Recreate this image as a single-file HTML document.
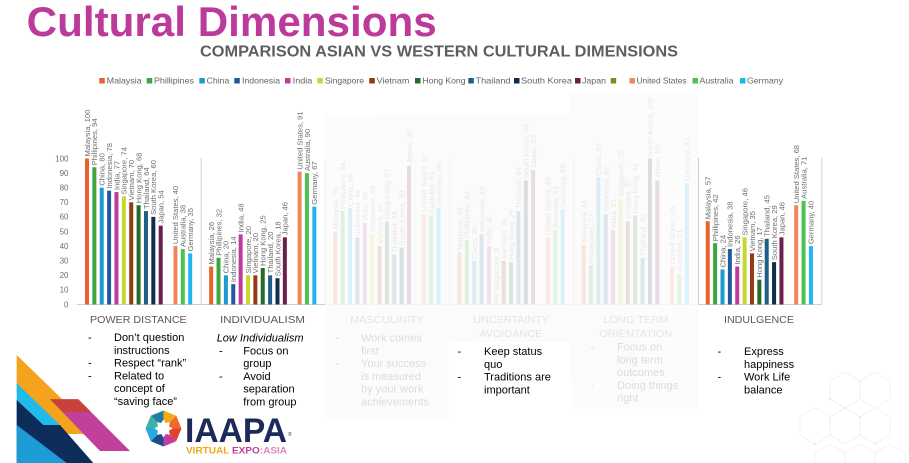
<!DOCTYPE html>
<html>
<head>
<meta charset="utf-8">
<style>
html,body{margin:0;padding:0;background:#fff;}
svg{display:block;}
.l{font-family:"Liberation Sans",sans-serif;font-size:7.6px;fill:#6e6e6e;}
.t{font-family:"Liberation Sans",sans-serif;font-size:8px;fill:#6e6e6e;}
.lg{font-family:"Liberation Sans",sans-serif;font-size:8.5px;fill:#626262;}
.cat{font-family:"Liberation Sans",sans-serif;font-size:10.5px;fill:#595959;}
.b{font-family:"Liberation Sans",sans-serif;font-size:11px;fill:#000;}
.c0{fill:#E8622C}.c1{fill:#3DA640}.c2{fill:#1E9AD0}.c3{fill:#1F5C99}.c4{fill:#C03A9E}
.c5{fill:#C5D82E}.c6{fill:#953A12}.c7{fill:#276B2A}.c8{fill:#1E5F87}.c9{fill:#0F2D4D}
.c10{fill:#6A1F4F}.c11{fill:#7E8C1F}.c12{fill:#F0875C}.c13{fill:#4DC252}.c14{fill:#1DB6F2}
</style>
</head>
<body>
<svg width="909" height="463" viewBox="0 0 909 463" xmlns="http://www.w3.org/2000/svg">
<rect width="909" height="463" fill="#fff"/>

<!-- Title -->
<text x="26.7" y="36" font-family="Liberation Sans, sans-serif" font-size="42" font-weight="bold" fill="#BC3A9A" textLength="410" lengthAdjust="spacingAndGlyphs">Cultural Dimensions</text>
<text x="200" y="56.7" font-family="Liberation Sans, sans-serif" font-size="15.5" font-weight="bold" fill="#5e5e5e" textLength="478" lengthAdjust="spacingAndGlyphs">COMPARISON ASIAN VS WESTERN CULTURAL DIMENSIONS</text>

<!-- Legend -->
<g>
<rect x="99.3" y="78" width="5.5" height="5.5" class="c0"/><text class="lg" x="106.7" y="83.6" textLength="35" lengthAdjust="spacingAndGlyphs">Malaysia</text>
<rect x="146.7" y="78" width="5.5" height="5.5" class="c1"/><text class="lg" x="154" y="83.6" textLength="40" lengthAdjust="spacingAndGlyphs">Phillipines</text>
<rect x="199.3" y="78" width="5.5" height="5.5" class="c2"/><text class="lg" x="206.7" y="83.6" textLength="22.6" lengthAdjust="spacingAndGlyphs">China</text>
<rect x="234.3" y="78" width="5.5" height="5.5" class="c3"/><text class="lg" x="242" y="83.6" textLength="38" lengthAdjust="spacingAndGlyphs">Indonesia</text>
<rect x="285" y="78" width="5.5" height="5.5" class="c4"/><text class="lg" x="292.7" y="83.6" textLength="19.6" lengthAdjust="spacingAndGlyphs">India</text>
<rect x="317.3" y="78" width="5.5" height="5.5" class="c5"/><text class="lg" x="325" y="83.6" textLength="39" lengthAdjust="spacingAndGlyphs">Singapore</text>
<rect x="369.3" y="78" width="5.5" height="5.5" class="c6"/><text class="lg" x="376.7" y="83.6" textLength="32.6" lengthAdjust="spacingAndGlyphs">Vietnam</text>
<rect x="415" y="78" width="5.5" height="5.5" class="c7"/><text class="lg" x="422.5" y="83.6" textLength="43" lengthAdjust="spacingAndGlyphs">Hong Kong</text>
<rect x="468.3" y="78" width="5.5" height="5.5" class="c8"/><text class="lg" x="475.5" y="83.6" textLength="35" lengthAdjust="spacingAndGlyphs">Thailand</text>
<rect x="514" y="78" width="5.5" height="5.5" class="c9"/><text class="lg" x="521" y="83.6" textLength="51" lengthAdjust="spacingAndGlyphs">South Korea</text>
<rect x="575" y="78" width="5.5" height="5.5" class="c10"/><text class="lg" x="582" y="83.6" textLength="24" lengthAdjust="spacingAndGlyphs">Japan</text>
<rect x="610.7" y="78" width="5.5" height="5.5" class="c11"/>
<rect x="629.5" y="78" width="5.5" height="5.5" class="c12"/><text class="lg" x="636.5" y="83.6" textLength="50" lengthAdjust="spacingAndGlyphs">United States</text>
<rect x="692.5" y="78" width="5.5" height="5.5" class="c13"/><text class="lg" x="699.5" y="83.6" textLength="34" lengthAdjust="spacingAndGlyphs">Australia</text>
<rect x="740" y="78" width="5.5" height="5.5" class="c14"/><text class="lg" x="747" y="83.6" textLength="36" lengthAdjust="spacingAndGlyphs">Germany</text>
</g>

<!-- Y axis labels -->
<g class="t" text-anchor="end">
<text x="68.5" y="307.3">0</text>
<text x="68.5" y="292.7">10</text>
<text x="68.5" y="278.1">20</text>
<text x="68.5" y="263.5">30</text>
<text x="68.5" y="248.9">40</text>
<text x="68.5" y="234.3">50</text>
<text x="68.5" y="219.7">60</text>
<text x="68.5" y="205.1">70</text>
<text x="68.5" y="190.5">80</text>
<text x="68.5" y="175.9">90</text>
<text x="68.5" y="161.3">100</text>
</g>

<!-- Axis lines -->
<g stroke="#cfcfcf" stroke-width="1">
<line x1="77" y1="304.5" x2="822" y2="304.5"/>
<line x1="201.2" y1="158" x2="201.2" y2="304.5"/>
<line x1="325.3" y1="158" x2="325.3" y2="304.5"/>
<line x1="449.4" y1="158" x2="449.4" y2="304.5"/>
<line x1="573.6" y1="158" x2="573.6" y2="304.5"/>
<line x1="698.5" y1="158" x2="698.5" y2="304.5"/>
<line x1="821.9" y1="158" x2="821.9" y2="304.5"/>
</g>

<!-- POWER DISTANCE -->
<g transform="translate(87,0)">
<g transform="translate(0,304.5) scale(1,-1.46)">
<rect x="-2" width="4" height="100" class="c0"/>
<rect x="5.37" width="4" height="94" class="c1"/>
<rect x="12.74" width="4" height="80" class="c2"/>
<rect x="20.11" width="4" height="78" class="c3"/>
<rect x="27.48" width="4" height="77" class="c4"/>
<rect x="34.85" width="4" height="74" class="c5"/>
<rect x="42.22" width="4" height="70" class="c6"/>
<rect x="49.59" width="4" height="68" class="c7"/>
<rect x="56.96" width="4" height="64" class="c8"/>
<rect x="64.33" width="4" height="60" class="c9"/>
<rect x="71.7" width="4" height="54" class="c10"/>
<rect x="86.44" width="4" height="40" class="c12"/>
<rect x="93.81" width="4" height="38" class="c13"/>
<rect x="101.18" width="4" height="35" class="c14"/>
</g>
<text class="l" transform="translate(2.8,302.5) rotate(-90)" x="146">Malaysia, 100</text>
<text class="l" transform="translate(10.17,302.5) rotate(-90)" x="137.24">Phillipines, 94</text>
<text class="l" transform="translate(17.54,302.5) rotate(-90)" x="116.8">China, 80</text>
<text class="l" transform="translate(24.91,302.5) rotate(-90)" x="113.88">Indonesia, 78</text>
<text class="l" transform="translate(32.28,302.5) rotate(-90)" x="112.42">India, 77</text>
<text class="l" transform="translate(39.65,302.5) rotate(-90)" x="108.04">Singapore, 74</text>
<text class="l" transform="translate(47.02,302.5) rotate(-90)" x="102.2">Vietnam, 70</text>
<text class="l" transform="translate(54.39,302.5) rotate(-90)" x="99.28">Hong Kong, 68</text>
<text class="l" transform="translate(61.76,302.5) rotate(-90)" x="93.44">Thailand, 64</text>
<text class="l" transform="translate(69.13,302.5) rotate(-90)" x="87.6">South Korea, 60</text>
<text class="l" transform="translate(76.5,302.5) rotate(-90)" x="78.84">Japan, 54</text>
<text class="l" transform="translate(91.24,302.5) rotate(-90)" x="58.4">United States, 40</text>
<text class="l" transform="translate(98.61,302.5) rotate(-90)" x="55.48">Australia, 38</text>
<text class="l" transform="translate(105.98,302.5) rotate(-90)" x="51.1">Germany, 35</text>
</g>

<!-- INDIVIDUALISM -->
<g transform="translate(211.15,0)">
<g transform="translate(0,304.5) scale(1,-1.46)">
<rect x="-2" width="4" height="26" class="c0"/>
<rect x="5.37" width="4" height="32" class="c1"/>
<rect x="12.74" width="4" height="20" class="c2"/>
<rect x="20.11" width="4" height="14" class="c3"/>
<rect x="27.48" width="4" height="48" class="c4"/>
<rect x="34.85" width="4" height="20" class="c5"/>
<rect x="42.22" width="4" height="20" class="c6"/>
<rect x="49.59" width="4" height="25" class="c7"/>
<rect x="56.96" width="4" height="20" class="c8"/>
<rect x="64.33" width="4" height="18" class="c9"/>
<rect x="71.7" width="4" height="46" class="c10"/>
<rect x="86.44" width="4" height="91" class="c12"/>
<rect x="93.81" width="4" height="90" class="c13"/>
<rect x="101.18" width="4" height="67" class="c14"/>
</g>
<text class="l" transform="translate(2.8,302.5) rotate(-90)" x="37.96">Malaysia, 26</text>
<text class="l" transform="translate(10.17,302.5) rotate(-90)" x="46.72">Phillipines, 32</text>
<text class="l" transform="translate(17.54,302.5) rotate(-90)" x="29.2">China, 20</text>
<text class="l" transform="translate(24.91,302.5) rotate(-90)" x="20.44">Indonesia, 14</text>
<text class="l" transform="translate(32.28,302.5) rotate(-90)" x="70.08">India, 48</text>
<text class="l" transform="translate(39.65,302.5) rotate(-90)" x="29.2">Singapore, 20</text>
<text class="l" transform="translate(47.02,302.5) rotate(-90)" x="29.2">Vietnam, 20</text>
<text class="l" transform="translate(54.39,302.5) rotate(-90)" x="36.5">Hong Kong, 25</text>
<text class="l" transform="translate(61.76,302.5) rotate(-90)" x="29.2">Thailand, 20</text>
<text class="l" transform="translate(69.13,302.5) rotate(-90)" x="26.28">South Korea, 18</text>
<text class="l" transform="translate(76.5,302.5) rotate(-90)" x="67.16">Japan, 46</text>
<text class="l" transform="translate(91.24,302.5) rotate(-90)" x="132.86">United States, 91</text>
<text class="l" transform="translate(98.61,302.5) rotate(-90)" x="131.4">Australia, 90</text>
<text class="l" transform="translate(105.98,302.5) rotate(-90)" x="97.82">Germany, 67</text>
</g>

<!-- MASCULINITY -->
<g transform="translate(335.3,0)">
<g transform="translate(0,304.5) scale(1,-1.46)">
<rect x="-2" width="4" height="50" class="c0"/>
<rect x="5.37" width="4" height="64" class="c1"/>
<rect x="12.74" width="4" height="66" class="c2"/>
<rect x="20.11" width="4" height="46" class="c3"/>
<rect x="27.48" width="4" height="56" class="c4"/>
<rect x="34.85" width="4" height="48" class="c5"/>
<rect x="42.22" width="4" height="40" class="c6"/>
<rect x="49.59" width="4" height="57" class="c7"/>
<rect x="56.96" width="4" height="34" class="c8"/>
<rect x="64.33" width="4" height="39" class="c9"/>
<rect x="71.7" width="4" height="95" class="c10"/>
<rect x="86.44" width="4" height="62" class="c12"/>
<rect x="93.81" width="4" height="61" class="c13"/>
<rect x="101.18" width="4" height="66" class="c14"/>
</g>
<text class="l" transform="translate(2.8,302.5) rotate(-90)" x="73">Malaysia, 50</text>
<text class="l" transform="translate(10.17,302.5) rotate(-90)" x="93.44">Phillipines, 64</text>
<text class="l" transform="translate(17.54,302.5) rotate(-90)" x="96.36">China, 66</text>
<text class="l" transform="translate(24.91,302.5) rotate(-90)" x="67.16">Indonesia, 46</text>
<text class="l" transform="translate(32.28,302.5) rotate(-90)" x="81.76">India, 56</text>
<text class="l" transform="translate(39.65,302.5) rotate(-90)" x="70.08">Singapore, 48</text>
<text class="l" transform="translate(47.02,302.5) rotate(-90)" x="58.4">Vietnam, 40</text>
<text class="l" transform="translate(54.39,302.5) rotate(-90)" x="83.22">Hong Kong, 57</text>
<text class="l" transform="translate(61.76,302.5) rotate(-90)" x="49.64">Thailand, 34</text>
<text class="l" transform="translate(69.13,302.5) rotate(-90)" x="56.94">South Korea, 39</text>
<text class="l" transform="translate(76.5,302.5) rotate(-90)" x="138.7">Japan, 95</text>
<text class="l" transform="translate(91.24,302.5) rotate(-90)" x="90.52">United States, 62</text>
<text class="l" transform="translate(98.61,302.5) rotate(-90)" x="89.06">Australia, 61</text>
<text class="l" transform="translate(105.98,302.5) rotate(-90)" x="96.36">Germany, 66</text>
</g>

<!-- UNCERTAINTY AVOIDANCE -->
<g transform="translate(459.45,0)">
<g transform="translate(0,304.5) scale(1,-1.46)">
<rect x="-2" width="4" height="36" class="c0"/>
<rect x="5.37" width="4" height="44" class="c1"/>
<rect x="12.74" width="4" height="30" class="c2"/>
<rect x="20.11" width="4" height="48" class="c3"/>
<rect x="27.48" width="4" height="40" class="c4"/>
<rect x="34.85" width="4" height="8" class="c5"/>
<rect x="42.22" width="4" height="30" class="c6"/>
<rect x="49.59" width="4" height="29" class="c7"/>
<rect x="56.96" width="4" height="64" class="c8"/>
<rect x="64.33" width="4" height="85" class="c9"/>
<rect x="71.7" width="4" height="92" class="c10"/>
<rect x="86.44" width="4" height="46" class="c12"/>
<rect x="93.81" width="4" height="51" class="c13"/>
<rect x="101.18" width="4" height="65" class="c14"/>
</g>
<text class="l" transform="translate(2.8,302.5) rotate(-90)" x="52.56">Malaysia, 36</text>
<text class="l" transform="translate(10.17,302.5) rotate(-90)" x="64.24">Phillipines, 44</text>
<text class="l" transform="translate(17.54,302.5) rotate(-90)" x="43.8">China, 30</text>
<text class="l" transform="translate(24.91,302.5) rotate(-90)" x="70.08">Indonesia, 48</text>
<text class="l" transform="translate(32.28,302.5) rotate(-90)" x="58.4">India, 40</text>
<text class="l" transform="translate(39.65,302.5) rotate(-90)" x="11.68">Singapore, 8</text>
<text class="l" transform="translate(47.02,302.5) rotate(-90)" x="43.8">Vietnam, 30</text>
<text class="l" transform="translate(54.39,302.5) rotate(-90)" x="42.34">Hong Kong, 29</text>
<text class="l" transform="translate(61.76,302.5) rotate(-90)" x="93.44">Thailand, 64</text>
<text class="l" transform="translate(69.13,302.5) rotate(-90)" x="124.1">South Korea, 85</text>
<text class="l" transform="translate(76.5,302.5) rotate(-90)" x="134.32">Japan, 92</text>
<text class="l" transform="translate(91.24,302.5) rotate(-90)" x="67.16">United States, 46</text>
<text class="l" transform="translate(98.61,302.5) rotate(-90)" x="74.46">Australia, 51</text>
<text class="l" transform="translate(105.98,302.5) rotate(-90)" x="94.9">Germany, 65</text>
</g>

<!-- LONG TERM ORIENTATION -->
<g transform="translate(583.6,0)">
<g transform="translate(0,304.5) scale(1,-1.46)">
<rect x="-2" width="4" height="41" class="c0"/>
<rect x="5.37" width="4" height="27" class="c1"/>
<rect x="12.74" width="4" height="87" class="c2"/>
<rect x="20.11" width="4" height="62" class="c3"/>
<rect x="27.48" width="4" height="51" class="c4"/>
<rect x="34.85" width="4" height="72" class="c5"/>
<rect x="42.22" width="4" height="57" class="c6"/>
<rect x="49.59" width="4" height="61" class="c7"/>
<rect x="56.96" width="4" height="32" class="c8"/>
<rect x="64.33" width="4" height="100" class="c9"/>
<rect x="71.7" width="4" height="85" class="c10"/>
<rect x="86.44" width="4" height="26" class="c12"/>
<rect x="93.81" width="4" height="21" class="c13"/>
<rect x="101.18" width="4" height="83" class="c14"/>
</g>
<text class="l" transform="translate(2.8,302.5) rotate(-90)" x="59.86">Malaysia, 41</text>
<text class="l" transform="translate(10.17,302.5) rotate(-90)" x="39.42">Philippines, 27</text>
<text class="l" transform="translate(17.54,302.5) rotate(-90)" x="127.02">China, 87</text>
<text class="l" transform="translate(24.91,302.5) rotate(-90)" x="90.52">Indonesia, 62</text>
<text class="l" transform="translate(32.28,302.5) rotate(-90)" x="74.46">India, 51</text>
<text class="l" transform="translate(39.65,302.5) rotate(-90)" x="105.12">Singapore, 72</text>
<text class="l" transform="translate(47.02,302.5) rotate(-90)" x="83.22">Vietnam, 57</text>
<text class="l" transform="translate(54.39,302.5) rotate(-90)" x="89.06">Hong Kong, 61</text>
<text class="l" transform="translate(61.76,302.5) rotate(-90)" x="46.72">Thailand, 32</text>
<text class="l" transform="translate(69.13,302.5) rotate(-90)" x="146">South Korea, 100</text>
<text class="l" transform="translate(76.5,302.5) rotate(-90)" x="124.1">Japan, 85</text>
<text class="l" transform="translate(91.24,302.5) rotate(-90)" x="37.96">United States, 26</text>
<text class="l" transform="translate(98.61,302.5) rotate(-90)" x="30.66">Australia, 21</text>
<text class="l" transform="translate(105.98,302.5) rotate(-90)" x="121.18">Germany, 83</text>
</g>

<!-- INDULGENCE -->
<g transform="translate(707.75,0)">
<g transform="translate(0,304.5) scale(1,-1.46)">
<rect x="-2" width="4" height="57" class="c0"/>
<rect x="5.37" width="4" height="42" class="c1"/>
<rect x="12.74" width="4" height="24" class="c2"/>
<rect x="20.11" width="4" height="38" class="c3"/>
<rect x="27.48" width="4" height="26" class="c4"/>
<rect x="34.85" width="4" height="46" class="c5"/>
<rect x="42.22" width="4" height="35" class="c6"/>
<rect x="49.59" width="4" height="17" class="c7"/>
<rect x="56.96" width="4" height="45" class="c8"/>
<rect x="64.33" width="4" height="29" class="c9"/>
<rect x="71.7" width="4" height="46" class="c10"/>
<rect x="86.44" width="4" height="68" class="c12"/>
<rect x="93.81" width="4" height="71" class="c13"/>
<rect x="101.18" width="4" height="40" class="c14"/>
</g>
<text class="l" transform="translate(2.8,302.5) rotate(-90)" x="83.22">Malaysia, 57</text>
<text class="l" transform="translate(10.17,302.5) rotate(-90)" x="61.32">Phillipines, 42</text>
<text class="l" transform="translate(17.54,302.5) rotate(-90)" x="35.04">China, 24</text>
<text class="l" transform="translate(24.91,302.5) rotate(-90)" x="55.48">Indonesia, 38</text>
<text class="l" transform="translate(32.28,302.5) rotate(-90)" x="37.96">India, 26</text>
<text class="l" transform="translate(39.65,302.5) rotate(-90)" x="67.16">Singapore, 46</text>
<text class="l" transform="translate(47.02,302.5) rotate(-90)" x="51.1">Vietnam, 35</text>
<text class="l" transform="translate(54.39,302.5) rotate(-90)" x="24.82">Hong Kong, 17</text>
<text class="l" transform="translate(61.76,302.5) rotate(-90)" x="65.7">Thailand, 45</text>
<text class="l" transform="translate(69.13,302.5) rotate(-90)" x="42.34">South Korea, 29</text>
<text class="l" transform="translate(76.5,302.5) rotate(-90)" x="67.16">Japan, 46</text>
<text class="l" transform="translate(91.24,302.5) rotate(-90)" x="99.28">United States, 68</text>
<text class="l" transform="translate(98.61,302.5) rotate(-90)" x="103.66">Australia, 71</text>
<text class="l" transform="translate(105.98,302.5) rotate(-90)" x="58.4">Germany, 40</text>
</g>

<!-- Category labels -->
<text class="cat" x="90" y="323" textLength="96.7" lengthAdjust="spacingAndGlyphs">POWER DISTANCE</text>
<text class="cat" x="220" y="323" textLength="85" lengthAdjust="spacingAndGlyphs">INDIVIDUALISM</text>
<text class="cat" x="350" y="323" textLength="74" lengthAdjust="spacingAndGlyphs">MASCULINITY</text>
<text class="cat" x="473.3" y="323" textLength="75.7" lengthAdjust="spacingAndGlyphs">UNCERTAINTY</text>
<text class="cat" x="479.3" y="337" textLength="63" lengthAdjust="spacingAndGlyphs">AVOIDANCE</text>
<text class="cat" x="603.3" y="323" textLength="65" lengthAdjust="spacingAndGlyphs">LONG TERM</text>
<text class="cat" x="599.3" y="337" textLength="73" lengthAdjust="spacingAndGlyphs">ORIENTATION</text>
<text class="cat" x="724" y="323" textLength="70" lengthAdjust="spacingAndGlyphs">INDULGENCE</text>

<!-- Bullets: Power distance -->
<g class="b">
<text x="88" y="341">-</text><text x="114" y="341">Don’t question</text>
<text x="114" y="353.8">instructions</text>
<text x="88" y="366.6">-</text><text x="114" y="366.6">Respect “rank”</text>
<text x="88" y="379.4">-</text><text x="114" y="379.4">Related to</text>
<text x="114" y="392.2">concept of</text>
<text x="114" y="405">“saving face”</text>
</g>
<!-- Individualism -->
<g class="b">
<text x="216.7" y="341.5" font-style="italic">Low Individualism</text>
<text x="219" y="354.3">-</text><text x="243.3" y="354.3">Focus on</text>
<text x="243.3" y="367.1">group</text>
<text x="219" y="379.9">-</text><text x="243.3" y="379.9">Avoid</text>
<text x="243.3" y="392.7">separation</text>
<text x="243.3" y="405.5">from group</text>
</g>
<!-- Masculinity (faded by overlay) -->
<g class="b" style="fill:#111">
<text x="335.5" y="341.5">-</text><text x="361" y="341.5">Work comes</text>
<text x="361" y="354.3">first</text>
<text x="335.5" y="367.1">-</text><text x="361" y="367.1">Your success</text>
<text x="361" y="379.9">is measured</text>
<text x="361" y="392.7">by your work</text>
<text x="361" y="405.5">achievements</text>
</g>
<!-- Long term (faded by overlay) -->
<g class="b" style="fill:#111">
<text x="590.5" y="350.5">-</text><text x="617" y="350.5">Focus on</text>
<text x="617" y="363.3">long term</text>
<text x="617" y="376.1">outcomes</text>
<text x="590.5" y="388.9">-</text><text x="617" y="388.9">Doing things</text>
<text x="617" y="401.7">right</text>
</g>

<!-- Faded overlays -->
<g fill="#fbfbfb" opacity="0.86">
<rect x="325" y="115" width="123.5" height="304"/>
<rect x="448.5" y="115" width="122.5" height="227"/>
<rect x="571" y="93" width="127" height="316"/>
</g>

<!-- Uncertainty avoidance bullets -->
<g class="b">
<text x="457.5" y="355">-</text><text x="484" y="355">Keep status</text>
<text x="484" y="367.8">quo</text>
<text x="457.5" y="380.6">-</text><text x="484" y="380.6">Traditions are</text>
<text x="484" y="393.4">important</text>
</g>
<!-- Indulgence bullets -->
<g class="b">
<text x="717.5" y="355">-</text><text x="744" y="355">Express</text>
<text x="744" y="367.8">happiness</text>
<text x="717.5" y="380.6">-</text><text x="744" y="380.6">Work Life</text>
<text x="744" y="393.4">balance</text>
</g>

<!-- Bottom-left decoration -->
<g>
<polygon points="16.7,355 98,434 62,434 16.7,392" fill="#F5A31C"/>
<polygon points="16.7,383.3 60,425 60,430 16.7,430" fill="#20BBEA"/>
<polygon points="16.7,400 43.3,425 60,425 93.3,463 16.7,463" fill="#0E2C5A"/>
<polygon points="16.7,425 66.7,463 16.7,463" fill="#1C9BD6"/>
<polygon points="50,399.3 78.3,399.3 130,451 100,451" fill="#C2409C"/>
<polygon points="50,399.3 78.3,399.3 91,412 63,412" fill="#C8413A"/>
</g>

<!-- IAAPA logo -->
<g transform="translate(163.5,428.5)">
<polygon points="0,0 0,-18 12.7,-12.7" fill="#F6A81C"/>
<polygon points="0,0 12.7,-12.7 18,0" fill="#EE6A2B"/>
<polygon points="0,0 18,0 12.7,12.7" fill="#E0442C"/>
<polygon points="0,0 12.7,12.7 0,18" fill="#C23C9E"/>
<polygon points="0,0 0,18 -12.7,12.7" fill="#1C4E8C"/>
<polygon points="0,0 -12.7,12.7 -18,0" fill="#27A9E1"/>
<polygon points="0,0 -18,0 -12.7,-12.7" fill="#3AB4A0"/>
<polygon points="0,0 -12.7,-12.7 0,-18" fill="#1F7FA0"/>
<polygon points="0,-9 2.3,-5.5 6.4,-6.4 5.5,-2.3 9,0 5.5,2.3 6.4,6.4 2.3,5.5 0,9 -2.3,5.5 -6.4,6.4 -5.5,2.3 -9,0 -5.5,-2.3 -6.4,-6.4 -2.3,-5.5" fill="#fff"/>
</g>
<text x="185" y="442" font-family="Liberation Sans, sans-serif" font-size="34" font-weight="bold" fill="#1D2B5B" textLength="102" lengthAdjust="spacingAndGlyphs">IAAPA</text>
<text x="288" y="436" font-family="Liberation Sans, sans-serif" font-size="5" fill="#1D2B5B">®</text>
<text x="186" y="453.5" font-family="Liberation Sans, sans-serif" font-size="9" font-weight="bold" textLength="101" lengthAdjust="spacingAndGlyphs"><tspan fill="#F2A71B">VIRTUAL </tspan><tspan fill="#C23C9E">EXPO</tspan><tspan fill="#D98AC4">:ASIA</tspan></text>

<!-- Hexagon pattern bottom right -->
<g fill="none" stroke="#e8eff5" stroke-width="0.7">
<polygon points="845,372 860,381 860,399 845,408 830,399 830,381"/>
<polygon points="875,372 890,381 890,399 875,408 860,399 860,381"/>
<polygon points="815,408 830,417 830,435 815,444 800,435 800,417"/>
<polygon points="845,408 860,417 860,435 845,444 830,435 830,417"/>
<polygon points="875,408 890,417 890,435 875,444 860,435 860,417"/>
<polygon points="830,444 845,453 845,471 830,480 815,471 815,453"/>
<polygon points="860,444 875,453 875,471 860,480 845,471 845,453"/>
<polygon points="890,444 905,453 905,471 890,480 875,471 875,453"/>
</g>
<g fill="#cddbe7">
<circle cx="830" cy="399" r="0.8"/><circle cx="860" cy="381" r="0.8"/><circle cx="845" cy="408" r="0.8"/>
<circle cx="815" cy="444" r="0.8"/><circle cx="875" cy="444" r="0.8"/><circle cx="860" cy="417" r="0.8"/>
</g>
</svg>
</body>
</html>
